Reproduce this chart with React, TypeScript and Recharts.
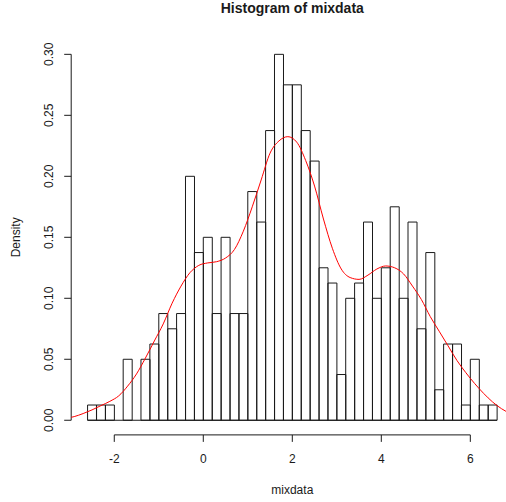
import React from 'react';
import { ComposedChart, Bar, Line, XAxis, YAxis, ReferenceLine } from 'recharts';

// bin centres (0.2 wide bins from -2.6 to 6.6), padded on both sides for the density curve
const X_POS = [
  -3.1, -2.9, -2.7, -2.5, -2.3, -2.1, -1.9, -1.7, -1.5, -1.3, -1.1, -0.9, -0.7,
  -0.5, -0.3, -0.1, 0.1, 0.3, 0.5, 0.7, 0.9, 1.1, 1.3, 1.5, 1.7, 1.9, 2.1, 2.3,
  2.5, 2.7, 2.9, 3.1, 3.3, 3.5, 3.7, 3.9, 4.1, 4.3, 4.5, 4.7, 4.9, 5.1, 5.3, 5.5,
  5.7, 5.9, 6.1, 6.3, 6.5, 6.7, 6.9, 7.1,
];

// histogram density per bin
const HIST_DENSITY = [
  null, null, null,
  0.0125, 0.0125, 0.0125, 0, 0.05, 0, 0.05, 0.0625, 0.0875, 0.075, 0.0875, 0.2,
  0.1375, 0.15, 0.0875, 0.15, 0.0875, 0.0875, 0.1875, 0.1625, 0.2375, 0.3, 0.275,
  0.275, 0.2375, 0.2125, 0.125, 0.1125, 0.0375, 0.1, 0.1125, 0.1625, 0.1, 0.125,
  0.175, 0.1, 0.1625, 0.075, 0.1375, 0.025, 0.0625, 0.0625, 0.0125, 0.05, 0.0125,
  0.0125,
  null, null, null,
];

// kernel density estimate (red curve)
const KDE = [
  0.0015, 0.003, 0.0055, 0.0085, 0.012, 0.0155, 0.02, 0.028, 0.038, 0.051, 0.065,
  0.079, 0.096, 0.11, 0.121, 0.127, 0.129, 0.13, 0.133, 0.14, 0.155, 0.175, 0.197,
  0.219, 0.229, 0.2325, 0.228, 0.213, 0.192, 0.165, 0.141, 0.124, 0.117, 0.1155,
  0.119, 0.124, 0.1265, 0.125, 0.12, 0.11, 0.099, 0.085, 0.073, 0.061, 0.049,
  0.039, 0.03, 0.022, 0.015, 0.0095, 0.0055, 0.003,
];

const X_TICKS = [-2, 0, 2, 4, 6];
const Y_TICKS = [0, 0.05, 0.1, 0.15, 0.2, 0.25, 0.3];

const data = X_POS.map((x, i) => ({ x, hist: HIST_DENSITY[i], kde: KDE[i] }));

const FONT = '"Liberation Sans", Arial, Helvetica, sans-serif';
const INK = '#1a1a1a';

const YTick = ({ x, y, payload }: any) => (
  <text
    x={x}
    y={y}
    transform={`rotate(-90, ${x}, ${y})`}
    textAnchor="middle"
    fontSize={12}
    fill={INK}
  >
    {Number(payload.value).toFixed(2)}
  </text>
);

const XTitle = ({ viewBox }: any) => (
  <text x={viewBox.x + viewBox.width / 2} y={493.5} textAnchor="middle" fontSize={12} fill={INK}>
    mixdata
  </text>
);

const YTitle = ({ viewBox }: any) => {
  const cy = viewBox.y + viewBox.height / 2;
  return (
    <text x={20.5} y={cy} transform={`rotate(-90, 20.5, ${cy})`} textAnchor="middle" fontSize={12} fill={INK}>
      Density
    </text>
  );
};

export default function App() {
  return (
    <div
      style={{
        position: 'absolute',
        left: 0,
        top: 0,
        width: 506,
        height: 502,
        overflow: 'hidden',
        background: '#fff',
        fontFamily: FONT,
      }}
    >
      <div
        style={{
          position: 'absolute',
          top: 0,
          left: 0,
          width: 584.6,
          textAlign: 'center',
          fontWeight: 'bold',
          fontSize: 14,
          lineHeight: '16px',
          color: INK,
        }}
      >
        Histogram of mixdata
      </div>
      <ComposedChart
        width={530}
        height={502}
        data={data}
        margin={{ top: 39.7, left: 11.2, right: 16.6, bottom: 27.1 }}
        barCategoryGap={0}
        barGap={0}
      >
        <XAxis
          dataKey="x"
          type="number"
          domain={[-2.968, 6.968]}
          allowDataOverflow
          ticks={X_TICKS}
          axisLine={false}
          tickSize={7}
          tickMargin={13}
          tickLine={{ stroke: INK }}
          tick={{ fill: INK, fontSize: 12 }}
          height={40}
          label={XTitle}
        />
        <YAxis
          type="number"
          domain={[-0.012, 0.312]}
          allowDataOverflow
          ticks={Y_TICKS}
          axisLine={false}
          tickSize={7}
          tickMargin={10.7}
          tickLine={{ stroke: INK }}
          tick={YTick}
          width={60}
          label={YTitle}
        />
        <ReferenceLine
          segment={[{ x: -2, y: -0.012 }, { x: 6, y: -0.012 }]}
          stroke={INK}
          ifOverflow="visible"
        />
        <ReferenceLine
          segment={[{ x: -2.968, y: 0 }, { x: -2.968, y: 0.3 }]}
          stroke={INK}
          ifOverflow="visible"
        />
        <ReferenceLine
          segment={[{ x: -2.6, y: 0 }, { x: 6.6, y: 0 }]}
          stroke={INK}
          ifOverflow="visible"
        />
        <Bar dataKey="hist" fill="none" stroke={INK} strokeWidth={1} isAnimationActive={false} />
        <Line
          dataKey="kde"
          type="monotone"
          stroke="#ff0000"
          strokeWidth={1}
          dot={false}
          activeDot={false}
          isAnimationActive={false}
        />
      </ComposedChart>
    </div>
  );
}
